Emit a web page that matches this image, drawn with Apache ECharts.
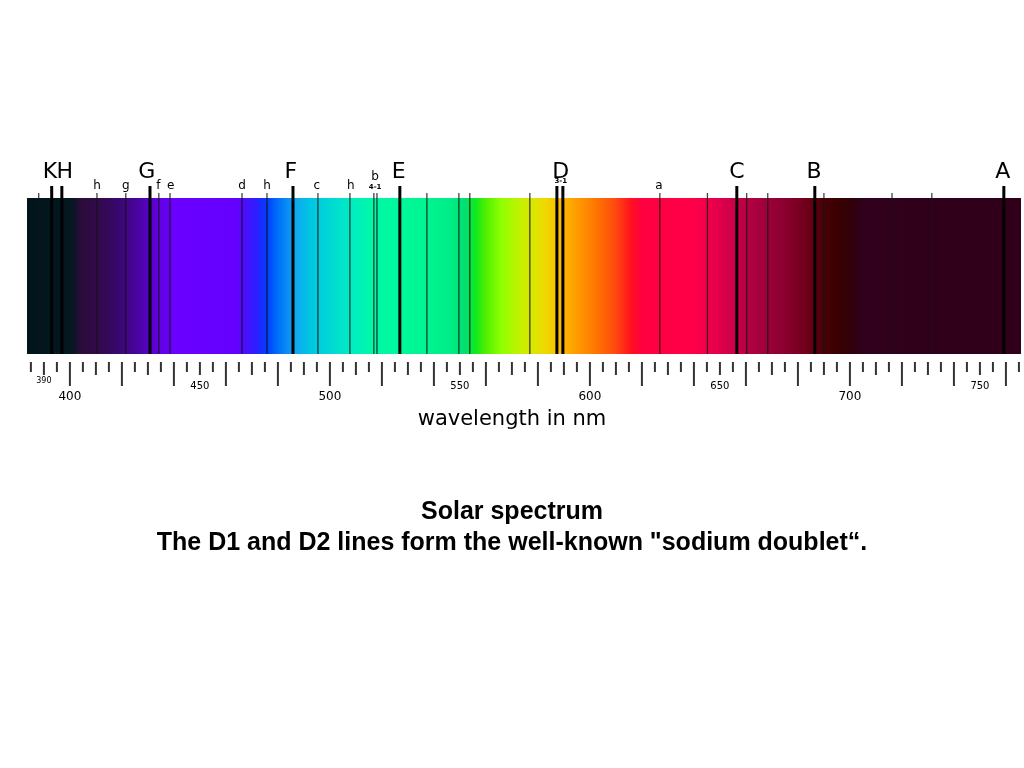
<!DOCTYPE html>
<html><head><meta charset="utf-8">
<script src="https://cdn.jsdelivr.net/npm/echarts@6/dist/echarts.min.js"></script>
<style>html,body{margin:0;padding:0;background:#fff}#c{width:1024px;height:768px}</style>
</head><body><div id="c"></div>
<script>
// spectrum colour stops [nm, colour]
const spectrumStops = [[383.5,'#00141c'],[400,'#041820'],[402,'#101428'],[404,'#2a0c38'],[410,'#300a48'],[418,'#38086a'],[426,'#4a04a0'],[434,'#6000e0'],[440,'#6a00ff'],[464,'#6400ff'],[472,'#2a20ff'],[476,'#0040ff'],[480,'#0070f8'],[487,'#10a8f0'],[492,'#00c4e4'],[500,'#00d8d4'],[508,'#00ecc4'],[516,'#00f8a8'],[530,'#00f898'],[546,'#00ee88'],[552,'#00e070'],[556,'#10e820'],[560,'#50f000'],[566,'#90ff00'],[574,'#c8f000'],[582,'#ecdc00'],[588,'#fcc000'],[594,'#ffa000'],[602,'#ff7800'],[610,'#ff4810'],[616,'#ff1020'],[620,'#ff0040'],[640,'#ff0048'],[648,'#e8004c'],[656,'#c80048'],[664,'#a80040'],[676,'#88002c'],[684,'#6c0018'],[690,'#480008'],[696,'#380000'],[702,'#300010'],[705,'#30001c'],[765.8,'#30001a']];
// Fraunhofer lines [nm, kind]  kind: 1 = strong, 0 = weak
const lineNm   = [388,393.0,396.9,410.4,421.5,430.8,434.2,438.5,466.2,475.8,485.8,495.4,507.7,516.9,518.1,526.9,537.3,549.6,553.8,576.9,587.3,589.6,626.9,645.2,656.5,660.3,668.4,686.5,690.0,716.2,731.5,759.2];
const lineKind = [0,1,1,0,0,1,0,0,0,0,1,0,0,0,0,1,0,0,0,0,1,1,0,0,1,0,0,1,0,0,0,1];
// line letters
const bigNames = ['K','H','G','F','E','D','C','B','A'];
const bigNm    = [392.3,398.0,429.6,485.0,526.5,588.8,656.5,686.2,758.8];
const smallNames = ['h','g','f','e','d','h','c','h','b','a'];
const smallNm    = [410.4,421.5,434.0,438.8,466.2,475.8,495.0,508.0,517.4,626.5];
const subNames = ['4-1','3-1'];
const subNm    = [517.4,588.8];
// axis
const axisMin = 383.5, axisMax = 765.8;
const tickNm = []; for (let v = 385; v <= 765; v += 5) tickNm.push(v);
const majorLabels = [400,500,600,700];
const minorLabels = [390,450,550,650,750];

const chart = echarts.init(document.getElementById('c'));
const W = axisMax - axisMin;
const grad = spectrumStops.map(s => ({offset:(s[0]-axisMin)/W, color:s[1]}));

chart.setOption({
  animation:false,
  title:{text:'Solar spectrum\nThe D1 and D2 lines form the well-known "sodium doublet“.',left:'center',top:492,
    textStyle:{fontFamily:'Liberation Sans',fontWeight:'bold',fontSize:25,lineHeight:31,color:'#000'}},
  grid:{left:27,right:3,top:198,bottom:414},
  xAxis:{type:'value',min:axisMin,max:axisMax,show:false},
  yAxis:{type:'value',min:0,max:1,show:false},
  series:[
    {type:'custom',data:[[axisMin,axisMax]],renderItem:(p,api)=>{
      const a=api.coord([axisMin,1]), b=api.coord([axisMax,0]);
      return {type:'rect',shape:{x:a[0],y:a[1],width:b[0]-a[0],height:b[1]-a[1]},
        style:{fill:new echarts.graphic.LinearGradient(0,0,1,0,grad)}};
    }},
    {type:'custom',data:lineNm.map((v,i)=>[v,lineKind[i]]),renderItem:(p,api)=>{
      const k=api.value(1), t=api.coord([api.value(0),1]), b=api.coord([api.value(0),0]);
      return {type:'line',shape:{x1:t[0],y1:t[1]-(k?12:5),x2:t[0],y2:b[1]},
        style:{stroke:k?'#000':'rgba(20,20,20,0.8)',lineWidth:k?3:1.3}};
    }},
    {type:'custom',data:tickNm.map(v=>[v]),renderItem:(p,api)=>{
      const v=api.value(0), b=api.coord([v,0]);
      const len = v%20===0?24:(v%10===0?13:10);
      return {type:'line',shape:{x1:b[0],y1:b[1]+8,x2:b[0],y2:b[1]+8+len},
        style:{stroke:'#333',lineWidth:2}};
    }},
    {type:'custom',data:bigNm.map((v,i)=>[v,bigNames[i]]),renderItem:(p,api)=>{
      const t=api.coord([api.value(0),1]);
      return {type:'text',x:t[0],y:t[1]-26,style:{text:bigNames[p.dataIndex],fontFamily:'DejaVu Sans',fontSize:22,fill:'#000',align:'center',verticalAlign:'middle'}};
    }},
    {type:'custom',data:smallNm.map((v,i)=>[v]),renderItem:(p,api)=>{
      const t=api.coord([api.value(0),1]);
      const n=smallNames[p.dataIndex];
      return {type:'text',x:t[0],y:t[1]-(n==='b'?21:12),style:{text:n,fontFamily:'DejaVu Sans',fontSize:12,fill:'#000',align:'center',verticalAlign:'middle'}};
    }},
    {type:'custom',data:subNm.map(v=>[v]),renderItem:(p,api)=>{
      const t=api.coord([api.value(0),1]);
      return {type:'text',x:t[0],y:t[1]-(p.dataIndex===0?11:17),style:{text:subNames[p.dataIndex],fontFamily:'DejaVu Sans',fontSize:7,fontWeight:'bold',fill:'#000',align:'center',verticalAlign:'middle'}};
    }},
    {type:'custom',data:majorLabels.map(v=>[v]),renderItem:(p,api)=>{
      const b=api.coord([api.value(0),0]);
      return {type:'text',x:b[0],y:b[1]+43,style:{text:String(majorLabels[p.dataIndex]),fontFamily:'DejaVu Sans',fontSize:12,fill:'#000',align:'center',verticalAlign:'middle'}};
    }},
    {type:'custom',data:minorLabels.map(v=>[v]),renderItem:(p,api)=>{
      const b=api.coord([api.value(0),0]);
      const first=p.dataIndex===0;
      return {type:'text',x:b[0],y:b[1]+(first?27:32),style:{text:String(minorLabels[p.dataIndex]),fontFamily:'DejaVu Sans',fontSize:first?8:10,fill:'#000',align:'center',verticalAlign:'middle'}};
    }}
  ],
  graphic:[{type:'text',left:'center',top:409,style:{text:'wavelength in nm',fontFamily:'DejaVu Sans',fontSize:21,fill:'#000'}}]
});
</script></body></html>
